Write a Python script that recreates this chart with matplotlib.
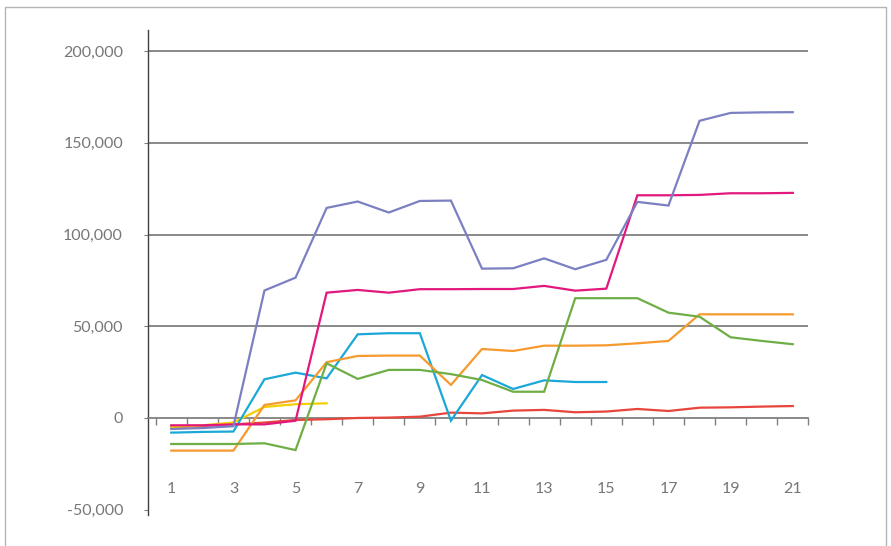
import numpy as np
import matplotlib
matplotlib.use("Agg")
import matplotlib.pyplot as plt
from matplotlib.patches import Rectangle
from matplotlib.ticker import FuncFormatter

plt.rcParams['font.family'] = ['Lato', 'DejaVu Sans']

categories = list(range(1, 22))
tick_labels = [str(c) if c % 2 == 1 else "" for c in categories]

purple = [-6000, -5500, -4500, 69500, 76500, 114500, 118000, 112000, 118300, 118500,
          81400, 81600, 87000, 81100, 86200, 117800, 115800, 162000, 166300, 166600, 166700]
magenta = [-4000, -4000, -3500, -3500, -1500, 68300, 69800, 68300, 70200, 70200,
           70300, 70300, 72000, 69400, 70500, 121400, 121400, 121600, 122500, 122500, 122700]
green = [-14200, -14200, -14200, -13800, -17500, 29800, 21300, 26200, 26200, 23900,
         20700, 14300, 14300, 65300, 65300, 65300, 57400, 55200, 44000, 42000, 40200]
orange = [-17800, -17800, -17800, 7100, 9600, 30400, 33800, 34000, 34000, 18000,
          37600, 36500, 39400, 39400, 39600, 40700, 42000, 56500, 56500, 56500, 56500]
cyan = [-8000, -7600, -7400, 21100, 24700, 21600, 45600, 46200, 46200, -1500,
        23400, 15800, 20500, 19600, 19600] + [np.nan] * 6
red = [-5000, -4400, -3500, -2500, -1100, -700, 0, 200, 700, 2900,
       2500, 4000, 4400, 3100, 3500, 4900, 3800, 5600, 5800, 6200, 6500]
yellow = [-5000, -4000, -2500, 6000, 7500, 8000] + [np.nan] * 15

series = [
    (red, '#e8453c'),
    (yellow, '#f2cf00'),
    (cyan, '#1ba8d8'),
    (orange, '#f79a2e'),
    (green, '#6fae45'),
    (magenta, '#e2187f'),
    (purple, '#7b80c2'),
]

W, H = 891, 546
fig = plt.figure(figsize=(W / 100, H / 100), dpi=100)
ax = fig.add_axes([148 / W, 1 - 515 / H, 660.3 / W, 485 / H])

for vals, col in series:
    ax.plot(categories, vals, color=col, lw=1.6, solid_joinstyle='miter', zorder=3)

ax.set_xlim(0.252, 21.5)
ax.set_ylim(-52900, 211500)

# gridlines
for g in [50000, 100000, 150000, 200000]:
    ax.axhline(g, color='#808080', lw=1.3, zorder=1)

for s in ['top', 'right']:
    ax.spines[s].set_visible(False)
ax.spines['left'].set_color('#404040')
ax.spines['left'].set_linewidth(1.0)
ax.spines['bottom'].set_position(('data', 0))
ax.spines['bottom'].set_color('#808080')
ax.spines['bottom'].set_linewidth(1.3)

ax.set_yticks([-50000, 0, 50000, 100000, 150000, 200000])
ax.yaxis.set_major_formatter(FuncFormatter(lambda v, p: f"{int(v):,}"))
ax.tick_params(axis='y', length=3, width=0.8, color='#808080', pad=15,
               labelsize=11.5, labelcolor='#777777')

ax.set_xticks(np.arange(0.5, 22.0, 1.0))
ax.set_xticklabels([])
ax.tick_params(axis='x', which='major', direction='out', length=5, width=1.0, color='#808080')
ax.set_xticks(categories, minor=True)
ax.set_xticklabels(tick_labels, minor=True)
ax.tick_params(axis='x', which='minor', length=0, pad=46, labelsize=11.5, labelcolor='#777777')

fig.patches.append(Rectangle((5 / W, -0.02), 881 / W, 1.02 - 7 / H, transform=fig.transFigure,
                             fill=False, edgecolor='#b5b5b5', lw=1.0))

fig.savefig('out.png', dpi=100)
